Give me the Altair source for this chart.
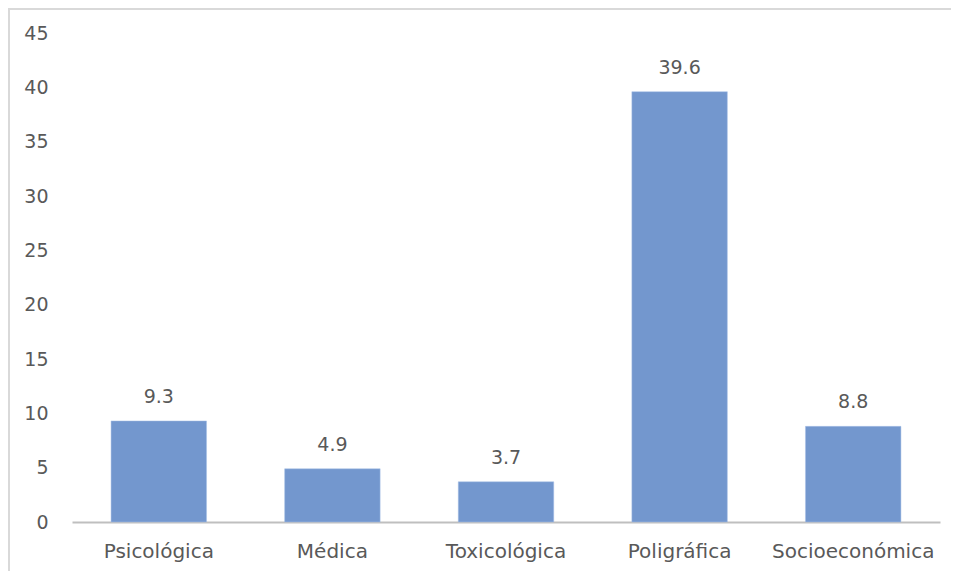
import altair as alt
import pandas as pd

categories = ["Psicológica", "Médica", "Toxicológica", "Poligráfica", "Socioeconómica"]
values = [9.3, 4.9, 3.7, 39.6, 8.8]

df = pd.DataFrame({"cat": categories, "val": values})
FONT = "DejaVu Sans"
TXT = "#595959"
FS = 19

x = alt.X("cat:N", sort=categories, title=None,
          scale=alt.Scale(paddingInner=0.45, paddingOuter=0.225),
          axis=alt.Axis(labelAngle=0, labelFontSize=20, labelColor=TXT, labelFont=FONT,
                        labelPadding=35, ticks=False, domainColor="#BFBFBF", domainWidth=2,
                        labelBaseline="alphabetic"))
y = alt.Y("val:Q", title=None,
          scale=alt.Scale(domain=[0, 45], nice=False),
          axis=alt.Axis(values=list(range(0, 50, 5)), grid=False, domain=False, ticks=False,
                        labelFontSize=FS, labelColor=TXT, labelFont=FONT, labelPadding=24))

base = alt.Chart(df)
bars = base.mark_bar(color="#7397CE", stroke="#A9C0E6", strokeWidth=0.5).encode(x=x, y=y)
labels = base.mark_text(fontSize=FS, color=TXT, font=FONT, baseline="alphabetic", dy=-18).encode(
    x=alt.X("cat:N", sort=categories), y="val:Q", text=alt.Text("val:Q", format=".1f"))

border_top = alt.Chart(df).mark_rule(color="#D9D9D9", strokeWidth=2).encode(
    x=alt.value(-64), x2=alt.value(890), y=alt.value(-24))
border_left = alt.Chart(df).mark_rule(color="#D9D9D9", strokeWidth=2).encode(
    x=alt.value(-63), y=alt.value(-25), y2=alt.value(550))

chart = alt.layer(border_top, border_left, bars, labels).properties(
    width=868, height=489,
    autosize=alt.AutoSizeParams(type="none"),
    padding={"left": 64, "top": 25, "right": 11, "bottom": 49},
).configure_view(stroke=None)

chart.save("out.html", embed_options={"renderer": "svg", "actions": False})
